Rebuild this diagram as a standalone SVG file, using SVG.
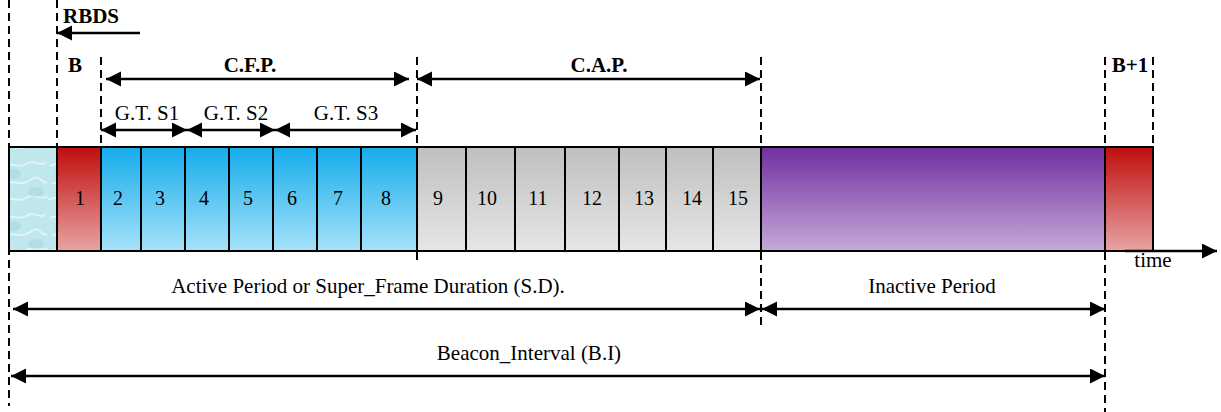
<svg xmlns="http://www.w3.org/2000/svg" width="1221" height="412" viewBox="0 0 1221 412">
<style>
text{font-family:"Liberation Serif","Times New Roman",serif;font-size:21px;fill:#000}
.b{font-weight:bold}
.c{text-anchor:middle}
.n{font-size:20px;text-anchor:middle}
.dash{stroke:#000;stroke-width:2;stroke-dasharray:8 5;fill:none}
.cell{stroke:#000;stroke-width:2}
.arr{stroke:#000;stroke-width:2.5;fill:none;marker-end:url(#ah)}
.arr2{stroke:#000;stroke-width:2.5;fill:none;marker-start:url(#ah);marker-end:url(#ah)}
</style>
<defs>
<marker id="ah" markerUnits="userSpaceOnUse" markerWidth="16" markerHeight="16" refX="15" refY="7.5" orient="auto-start-reverse">
<path d="M0,0 L15,7.5 L0,15 z" fill="#000"/>
</marker>
<linearGradient id="gRed" x1="0" y1="0" x2="0" y2="1">
<stop offset="0" stop-color="#c00d0d"/><stop offset="1" stop-color="#e8a3a3"/>
</linearGradient>
<linearGradient id="gBlue" x1="0" y1="0" x2="0" y2="1">
<stop offset="0" stop-color="#15aceb"/><stop offset="1" stop-color="#a6e2f9"/>
</linearGradient>
<linearGradient id="gGray" x1="0" y1="0" x2="0" y2="1">
<stop offset="0" stop-color="#bfbfbf"/><stop offset="1" stop-color="#e6e6e6"/>
</linearGradient>
<linearGradient id="gPurp" x1="0" y1="0" x2="0" y2="1">
<stop offset="0" stop-color="#7030a0"/><stop offset="1" stop-color="#c5aad9"/>
</linearGradient>
<pattern id="water" patternUnits="userSpaceOnUse" width="48" height="52">
<rect width="48" height="52" fill="#bfe7ec"/>
<path d="M2,10 C10,4 18,14 26,8 S40,12 46,6 M4,28 C12,22 20,32 30,24 S42,30 47,26 M0,44 C8,38 16,48 26,42 S40,46 48,40" stroke="#e6f7f9" stroke-width="2" fill="none" opacity="0.8"/>
<ellipse cx="14" cy="18" rx="7" ry="5" fill="#a3d6dd" opacity="0.5"/>
<ellipse cx="36" cy="36" rx="8" ry="5" fill="#a3d6dd" opacity="0.5"/>
</pattern>
</defs>

<g id="guides">
<line class="dash" x1="9" y1="0" x2="9" y2="406"/>
<line class="dash" x1="57" y1="0" x2="57" y2="147"/>
<line class="dash" x1="101" y1="57" x2="101" y2="147"/>
<line class="dash" x1="417" y1="57" x2="417" y2="262"/>
<line class="dash" x1="761" y1="57" x2="761" y2="330"/>
<line class="dash" x1="1105" y1="57" x2="1105" y2="412"/>
<line class="dash" x1="1153" y1="57" x2="1153" y2="147"/>
</g>

<g id="bar">
<rect id="beacon-tex" class="cell" x="9" y="147" width="48" height="104" fill="url(#water)"/>
<g id="slot1"><rect class="cell" x="57" y="147" width="44" height="104" fill="url(#gRed)"/><text class="n" x="80" y="205">1</text></g>
<g id="slot2"><rect class="cell" x="101" y="147" width="40" height="104" fill="url(#gBlue)"/><text class="n" x="118" y="205">2</text></g>
<g id="slot3"><rect class="cell" x="141" y="147" width="44" height="104" fill="url(#gBlue)"/><text class="n" x="160" y="205">3</text></g>
<g id="slot4"><rect class="cell" x="185" y="147" width="44" height="104" fill="url(#gBlue)"/><text class="n" x="204" y="205">4</text></g>
<g id="slot5"><rect class="cell" x="229" y="147" width="44" height="104" fill="url(#gBlue)"/><text class="n" x="248" y="205">5</text></g>
<g id="slot6"><rect class="cell" x="273" y="147" width="44" height="104" fill="url(#gBlue)"/><text class="n" x="292" y="205">6</text></g>
<g id="slot7"><rect class="cell" x="317" y="147" width="44" height="104" fill="url(#gBlue)"/><text class="n" x="338" y="205">7</text></g>
<g id="slot8"><rect class="cell" x="361" y="147" width="56" height="104" fill="url(#gBlue)"/><text class="n" x="386" y="205">8</text></g>
<g id="slot9"><rect class="cell" x="417" y="147" width="49" height="104" fill="url(#gGray)"/><text class="n" x="438" y="205">9</text></g>
<g id="slot10"><rect class="cell" x="466" y="147" width="49" height="104" fill="url(#gGray)"/><text class="n" x="487" y="205">10</text></g>
<g id="slot11"><rect class="cell" x="515" y="147" width="50" height="104" fill="url(#gGray)"/><text class="n" x="538" y="205">11</text></g>
<g id="slot12"><rect class="cell" x="565" y="147" width="54" height="104" fill="url(#gGray)"/><text class="n" x="592" y="205">12</text></g>
<g id="slot13"><rect class="cell" x="619" y="147" width="47" height="104" fill="url(#gGray)"/><text class="n" x="644" y="205">13</text></g>
<g id="slot14"><rect class="cell" x="666" y="147" width="47" height="104" fill="url(#gGray)"/><text class="n" x="692" y="205">14</text></g>
<g id="slot15"><rect class="cell" x="713" y="147" width="48" height="104" fill="url(#gGray)"/><text class="n" x="738" y="205">15</text></g>
<rect id="inactive" class="cell" x="761" y="147" width="344" height="104" fill="url(#gPurp)"/>
<rect id="beacon-next" class="cell" x="1105" y="147" width="48" height="104" fill="url(#gRed)"/>
</g>

<g id="connectors">
<line class="arr" x1="140" y1="33" x2="57" y2="33"/>
<line class="arr2" x1="106" y1="79" x2="409" y2="79"/>
<line class="arr2" x1="417" y1="79" x2="760" y2="79"/>
<line class="arr2" x1="101" y1="130" x2="187" y2="130"/>
<line class="arr2" x1="187" y1="130" x2="275" y2="130"/>
<line class="arr2" x1="275" y1="130" x2="416" y2="130"/>
<line class="arr" x1="1125" y1="251" x2="1217" y2="251"/>
<line class="arr2" x1="13" y1="309" x2="760" y2="309"/>
<line class="arr2" x1="762" y1="309" x2="1105" y2="309"/>
<line class="arr2" x1="11" y1="376" x2="1105" y2="376"/>
</g>

<g id="labels">
<text class="b" x="63" y="23">RBDS</text>
<text class="b" x="68" y="72">B</text>
<text class="b c" x="250" y="72">C.F.P.</text>
<text class="b c" x="599" y="72">C.A.P.</text>
<text class="b c" x="1130" y="72">B+1</text>
<text class="c" x="147" y="120">G.T. S1</text>
<text class="c" x="236" y="120">G.T. S2</text>
<text class="c" x="346" y="120">G.T. S3</text>
<text class="c" x="1153" y="267">time</text>
<text class="c" x="368" y="293">Active Period or Super_Frame Duration (S.D).</text>
<text class="c" x="932" y="293">Inactive Period</text>
<text class="c" x="529" y="360">Beacon_Interval (B.I)</text>
</g>
</svg>
